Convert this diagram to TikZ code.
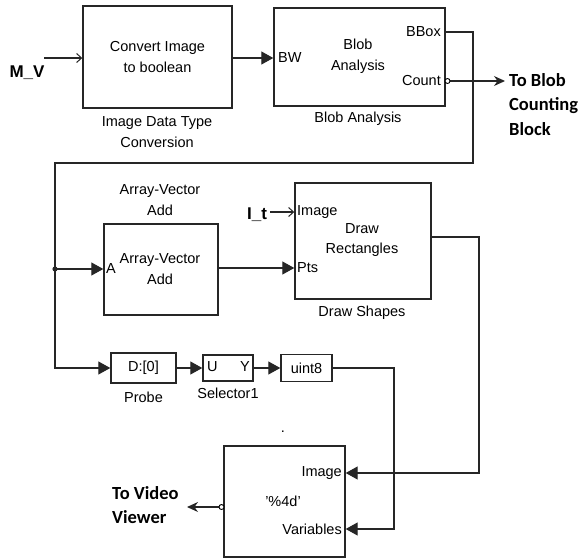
\documentclass[tikz,border=0pt]{standalone}
\usepackage{fontspec}
\setmainfont{Liberation Sans}
\newfontfamily\carlito{Carlito}
\usetikzlibrary{arrows.meta}
\begin{document}
\begin{tikzpicture}[x=1pt,y=-1pt, font=\fontsize{14.5}{20.5}\selectfont,
 blk/.style={draw=black!85, line width=1.4pt, inner sep=0pt, align=center},
 wire/.style={line width=1.2pt, draw=black!85},
 fa/.style={-{Triangle[length=12pt,width=13pt]}},
 oa/.style={-{Straight Barb[length=5pt,width=9pt,line width=1pt]}},
 sa/.style={-{Stealth[length=11pt,width=10pt]}},
 lbl/.style={align=center, inner sep=0pt},
 port/.style={inner sep=0pt},
 big/.style={font=\fontsize{18.5}{24.5}\selectfont\bfseries\carlito, align=left, inner sep=0pt},
 sig/.style={font=\fontsize{17}{20}\selectfont\bfseries, inner sep=0pt},
 pc/.style={draw, fill=white, circle, inner sep=0pt, minimum size=5pt, line width=0.9pt}
]
\useasboundingbox (0,0) rectangle (581,558);

% blocks
\node[blk, minimum width=149pt, minimum height=102pt] (conv) at (157.5,57) {Convert Image\\to boolean};
\node[blk, minimum width=171pt, minimum height=98pt] (blob) at (359.5,57) {};
\node[lbl] at (358,56) {Blob\\Analysis};
\node[blk, minimum width=114pt, minimum height=91pt] (avadd) at (161,269.5) {};
\node[lbl] at (160,269) {Array-Vector\\Add};
\node[blk, minimum width=136pt, minimum height=116pt] (drw) at (363,241) {};
\node[lbl] at (362,240) {Draw\\Rectangles};
\node[blk, minimum width=65pt, minimum height=30pt] (probe) at (143.5,368) {D:[0]};
\node[blk, minimum width=50pt, minimum height=26pt] (sel) at (228,368) {};
\node[blk, minimum width=51pt, minimum height=27pt] (u8) at (306.5,368) {uint8};
\node[blk, minimum width=121pt, minimum height=111pt] (txt) at (284.5,501.5) {};
\node[lbl] (fmt) at (283,501) {'\%4d'};
\node[lbl] (dot) at (283,432) {.};

% block names
\node[lbl] (convn) at (157,132) {Image Data Type\\Conversion};
\node[lbl] (blobn) at (358,119) {Blob Analysis};
\node[lbl] (avaddn) at (160,200) {Array-Vector\\Add};
\node[lbl] (drwn) at (362,313) {Draw Shapes};
\node[lbl] (proben) at (143.5,397) {Probe};
\node[lbl] (seln) at (228,393) {Selector1};

% port labels
\node[port, anchor=west] (bw) at (278,58) {BW};
\node[port, anchor=east] (bbox) at (441,32) {BBox};
\node[port, anchor=east] (cnt) at (441,81) {Count};
\node[port, anchor=west] (pa) at (106,269) {A};
\node[port, anchor=west] (pimg) at (297,212) {Image};
\node[port, anchor=west] (ppts) at (297,268) {Pts};
\node[port, anchor=west] (pu) at (207,367) {U};
\node[port, anchor=east] (py) at (250,367) {Y};
\node[port, anchor=east] (timg) at (342,473) {Image};
\node[port, anchor=east] (tvar) at (342,529) {Variables};

% external labels
\node[sig] (mv) at (27,73) {M\_V};
\node[sig] (it) at (257,215) {I\_t};
\node[big, anchor=north west] (blobcnt) at (509,73) {To Blob\\Counting\\Block};
\node[big, anchor=north west] (vv) at (112,486) {To Video\\Viewer};

\coordinate (mvin) at (44,58);
\coordinate (itin) at (270,212);
\coordinate (jn) at (55,269);
\coordinate (cntend) at (505,81);
\coordinate (vvend) at (187,507);

% connectors
\draw[wire, oa] (mvin) -- (conv.west |- mvin);
\draw[wire, fa] (conv.east |- 0,58) -- (blob.west |- 0,58);
\draw[wire] (blob.east |- 0,32) -- (473,32) -- (473,163) -- (55,163) -- (55,368) [fa] -- (probe.west);
\fill[black!85] (jn) circle (2.6pt);
\draw[wire, fa] (jn) -- (avadd.west |- jn);
\draw[wire, fa] (avadd.east |- 0,268) -- (drw.west |- 0,268);
\draw[wire, oa] (itin) -- (drw.west |- itin);
\draw[wire, fa] (drw.east |- 0,237) -- (479,237) -- (479,473) -- (txt.east |- 0,473);
\draw[wire, fa] (probe.east) -- (sel.west);
\draw[wire, fa] (sel.east) -- (u8.west);
\draw[wire, fa] (u8.east) -- (394,368) -- (394,529) -- (txt.east |- 0,529);
\draw[wire, sa] (blob.east |- cntend) ++(2.5,0) -- (cntend);
\node[pc] (cntc) at (447.5,81) {};
\draw[wire, sa] (txt.west |- vvend) ++(-2.5,0) -- (vvend);
\node[pc] (vvc) at (221.5,507) {};
\end{tikzpicture}
\end{document}
